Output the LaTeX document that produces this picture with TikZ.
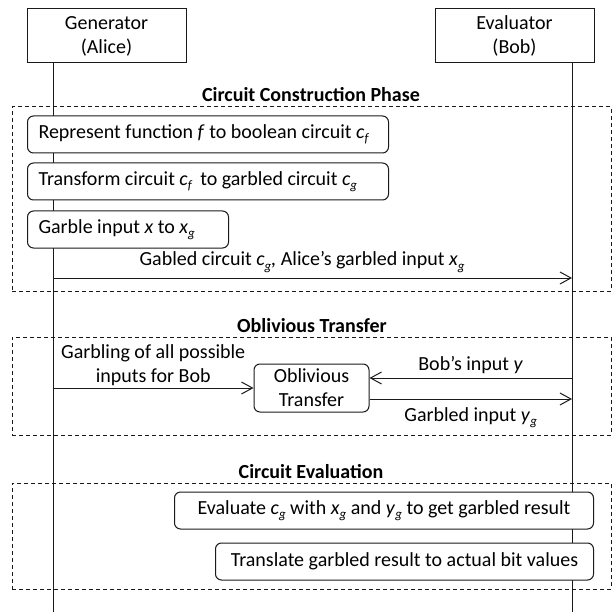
\documentclass[tikz,border=0pt]{standalone}
\usepackage{fontspec}
\setmainfont{Carlito}
\usetikzlibrary{arrows.meta, positioning}
\definecolor{cline}{HTML}{1A1A1A}
\tikzset{
  every picture/.style={font=\fontsize{20}{24}\selectfont, line width=1pt},
  actor/.style={draw=cline, minimum width=159pt, minimum height=54pt, align=center, inner sep=0pt},
  stepbox/.style={draw=cline, fill=white, rounded corners=6pt, minimum height=37pt, inner xsep=11pt, inner ysep=0pt},
  phase/.style={draw=cline, dash pattern=on 4pt off 3pt, minimum width=599pt, inner sep=0pt},
  arrow/.style={-{Straight Barb[length=11pt, width=12pt]}, draw=cline},
  title/.style={font=\fontsize{20}{24}\selectfont\bfseries, anchor=base},
  lbl/.style={align=center, inner sep=0pt},
}
\newcommand{\sub}[2]{\textit{#1}\raisebox{-0.45ex}{\fontsize{13}{13}\selectfont\textit{#2}}}

\begin{document}
\begin{tikzpicture}[x=1pt, y=-1pt]
  \useasboundingbox (0,0) rectangle (612,612);
  % the two parties and their lifelines
  \node[actor] (gen) at (106.5,36) {Generator\\(Alice)};
  \node[actor] (eva) at (514.5,36) {Evaluator\\(Bob)};
  \coordinate (aliceEnd) at (53,612);
  \coordinate (bobEnd) at (572,612);
  \draw[cline] (aliceEnd |- gen.south) -- (aliceEnd);
  \draw[cline] (bobEnd |- eva.south) -- (bobEnd);
  % the three phases
  \node[phase, minimum height=184pt] (build) at (311.5,199) {};
  \node[phase, minimum height=98pt] (ot) at (311.5,386) {};
  \node[phase, minimum height=106pt] (evalph) at (311.5,536) {};
  \node[title] (buildT) at (311,102) {Circuit Construction Phase};
  \node[title] (otT) at (312,332) {Oblivious Transfer};
  \node[title] (evalT) at (311,478) {Circuit Evaluation};
  % construction on Alice's side
  \node[stepbox, anchor=west] (repr) at (27,134.5)
    {\makebox[339pt][l]{Represent function \textit{f} to boolean circuit \sub{c}{f}}};
  \node[stepbox, below=9pt of repr.south west, anchor=north west] (trans)
    {\makebox[339pt][l]{Transform circuit \sub{c}{f}\, to garbled circuit \sub{c}{g}}};
  \node[stepbox, below=10pt of trans.south west, anchor=north west] (garb)
    {\makebox[179pt][l]{Garble input \textit{x} to \sub{x}{g}}};
  \coordinate (aliceSend) at (53,278);
  \draw[arrow] (aliceSend) -- node[lbl, above=5pt, pos=0.48]
    {Gabled circuit \sub{c}{g}\textit{,} Alice’s garbled input \sub{x}{g}} (aliceSend -| bobEnd);
  % oblivious transfer in the middle
  \node[stepbox, minimum width=115pt, minimum height=48pt, inner xsep=4pt, align=center] (otbox) at (311.5,388)
    {Oblivious\\Transfer};
  \coordinate (aliceOT) at (53,388);
  \coordinate (bobIn) at (572,378);
  \coordinate (bobOut) at (572,399);
  \draw[arrow] (aliceOT) -- node[lbl, above=2pt, midway] {Garbling of all possible\\inputs for Bob} (aliceOT -| otbox.west);
  \draw[arrow] (bobIn) -- node[lbl, above=4pt, midway] {Bob’s input \textit{y}} (bobIn -| otbox.east);
  \draw[arrow] (bobOut -| otbox.east) -- node[lbl, below=8pt, midway] {Garbled input \sub{y}{g}} (bobOut);
  % evaluation on Bob's side
  \node[stepbox, anchor=east, minimum width=419pt] (evalg) at (594,510.5)
    {Evaluate \sub{c}{g} with \sub{x}{g} and \sub{y}{g} to get garbled result};
  \node[stepbox, below=13pt of evalg.south east, anchor=north east, minimum width=378pt] (transl)
    {Translate garbled result to actual bit values};
\end{tikzpicture}
\end{document}
